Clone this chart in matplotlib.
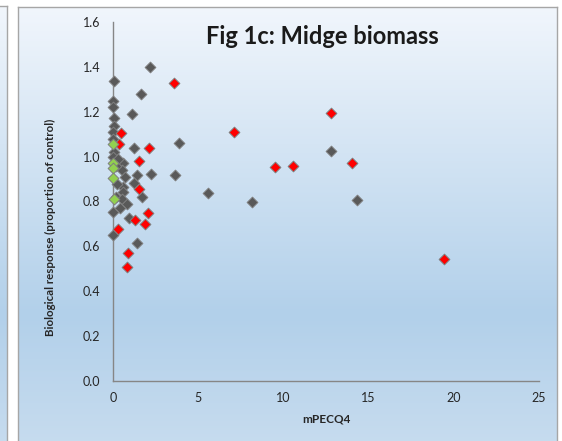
import numpy as np
import matplotlib
matplotlib.use("Agg")
import matplotlib.pyplot as plt
from matplotlib.colors import LinearSegmentedColormap

# ---- data ----
gray_x = [2.2, 1.62, 1.13, 3.86, 3.62, 2.21, 5.6, 8.16, 12.79, 14.3,
          0.04, 0.0, 0.02, 0.06, 0.06, 0.02, 0.0, 1.21, 0.06, 0.0,
          0.6, 0.51, 0.7, 1.39, 1.22, 0.6, 0.57, 1.68, 0.2, 0.51,
          0.8, 0.41, 0.02, 0.96, 0.02, 1.39, 0.3, 0.15, 0.25]
gray_y = [1.40, 1.28, 1.19, 1.06, 0.92, 0.924, 0.84, 0.796, 1.025, 0.808,
          1.338, 1.248, 1.22, 1.173, 1.136, 1.11, 1.08, 1.037, 1.019, 1.0,
          0.97, 0.94, 0.91, 0.918, 0.881, 0.866, 0.844, 0.82, 0.82, 0.81,
          0.79, 0.77, 0.755, 0.728, 0.65, 0.614, 0.99, 0.96, 0.88]
red_x = [3.6, 7.1, 12.78, 9.53, 10.56, 14.0, 19.4, 0.45, 0.35, 2.13,
         1.54, 1.54, 1.29, 2.07, 1.88, 0.3, 0.9, 0.85]
red_y = [1.33, 1.108, 1.194, 0.954, 0.958, 0.971, 0.545, 1.104, 1.055, 1.04,
         0.98, 0.856, 0.717, 0.747, 0.70, 0.676, 0.569, 0.507]
green_x = [0.02, 0.0, 0.0, 0.0, 0.06]
green_y = [1.056, 0.97, 0.95, 0.906, 0.81]

x_ticks = [0, 5, 10, 15, 20, 25]
y_ticks = [0.0, 0.2, 0.4, 0.6, 0.8, 1.0, 1.2, 1.4, 1.6]
title = "Fig 1c: Midge biomass"
xlabel = "mPECQ4"
ylabel = "Biological response (proportion of control)"

plt.rcParams['font.family'] = ['Lato', 'DejaVu Sans']

W, H = 562, 441
fig = plt.figure(figsize=(W / 100, H / 100), dpi=100)
fig.patch.set_facecolor('white')

cmap = LinearSegmentedColormap.from_list(
    "bg", [(0.0, "#f1f6fc"), (0.68, "#b2d0ea"), (1.0, "#c9ddef")])
grad = np.linspace(0, 1, 256).reshape(-1, 1)

def panel(x0, y0, x1, y1):
    ax = fig.add_axes([x0 / W, 1 - y1 / H, (x1 - x0) / W, (y1 - y0) / H])
    ax.imshow(grad, aspect='auto', cmap=cmap, extent=[0, 1, 0, 1], origin='upper')
    ax.set_xticks([]); ax.set_yticks([])
    for s in ax.spines.values():
        s.set_color('#a6a6a6'); s.set_linewidth(1.0)
    return ax

panel(-5, 6, 7.5, 460)
panel(17.5, 6.5, 557, 460)

ax = fig.add_axes([113 / W, 1 - 381 / H, (539 - 113) / W, (381 - 22) / H])
ax.set_facecolor('none')
ax.set_xlim(0, 25)
ax.set_ylim(0, 1.6)
for s in ['top', 'right']:
    ax.spines[s].set_visible(False)
for s in ['left', 'bottom']:
    ax.spines[s].set_color('#868686'); ax.spines[s].set_linewidth(1.0)
ax.set_xticks(x_ticks)
ax.set_yticks(y_ticks)
ax.set_yticklabels([f"{v:.1f}" for v in y_ticks])
ax.tick_params(length=0, labelsize=9, colors='#262626', pad=8)
ax.tick_params(axis='y', pad=9)

kw = dict(marker='D', s=30, edgecolors='#7f7f7f', linewidths=0.7, zorder=3, clip_on=False)
ax.scatter(gray_x, gray_y, c='#595959', **kw)
ax.scatter(red_x, red_y, c='#ff0000', **kw)
ax.scatter(green_x, green_y, c='#92d050', **kw)

fig.text(322 / W, 1 - 36 / H, title, ha='center', va='center',
         fontsize=17, fontweight='bold', color='#1a1a1a')
fig.text(326 / W, 1 - 419 / H, xlabel, ha='center', va='center',
         fontsize=8.5, fontweight='bold', color='#262626')
fig.text(50 / W, 1 - 227 / H, ylabel, ha='center', va='center', rotation=90,
         fontsize=8.3, fontweight='bold', color='#262626')

fig.savefig("out.png", dpi=100)
